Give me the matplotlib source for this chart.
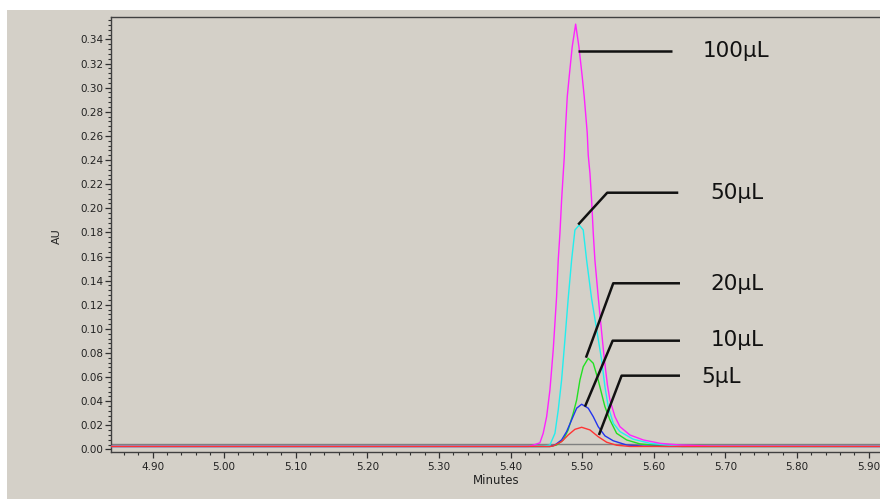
import matplotlib
matplotlib.use("Agg")
import matplotlib.pyplot as plt
from matplotlib.patches import Rectangle
from matplotlib.ticker import MultipleLocator, FormatStrFormatter

# ---------------- data ----------------
x_100 = [4.842, 5.425, 5.4316, 5.4409, 5.4455, 5.4503, 5.4549, 5.4595, 5.4642, 5.4665,
         5.4689, 5.4712, 5.4735, 5.4749, 5.4763, 5.4791, 5.4818, 5.4860, 5.4908, 5.4954,
         5.5000, 5.5028, 5.5070, 5.5084, 5.5108, 5.5131, 5.5154, 5.5177, 5.5223, 5.5268,
         5.5310, 5.5352, 5.5387, 5.5457, 5.5527, 5.5666, 5.5852, 5.6085, 5.6365, 5.6800, 5.916]
y_100 = [0.0025, 0.0025, 0.0036, 0.0055, 0.0134, 0.0272, 0.0493, 0.0825, 0.1267, 0.1571,
         0.1795, 0.2068, 0.2290, 0.2420, 0.2624, 0.2925, 0.3091, 0.3339, 0.3527, 0.3339,
         0.3091, 0.2925, 0.2624, 0.2440, 0.2290, 0.2068, 0.1795, 0.1571, 0.1267, 0.0991,
         0.0742, 0.0535, 0.0410, 0.0272, 0.0189, 0.0120, 0.0079, 0.0051, 0.0037, 0.0028, 0.0025]

x_50 = [4.842, 5.445, 5.4549, 5.4619, 5.4665, 5.4712, 5.4758, 5.4804, 5.4852, 5.4898,
        5.4958, 5.5014, 5.5061, 5.5131, 5.5200, 5.5271, 5.5317, 5.5363, 5.5433, 5.5527,
        5.5712, 5.5946, 5.6267, 5.6600, 5.916]
y_50 = [0.0025, 0.0025, 0.0037, 0.0134, 0.0327, 0.0576, 0.0908, 0.1250, 0.1571, 0.1820,
        0.1861, 0.1820, 0.1571, 0.1250, 0.1000, 0.0742, 0.0521, 0.0355, 0.0217, 0.0148,
        0.0085, 0.0051, 0.0032, 0.0026, 0.0025]

x_20 = [4.842, 5.455, 5.4642, 5.4735, 5.4804, 5.4874, 5.4922, 5.4968, 5.5014, 5.5084,
        5.5154, 5.5223, 5.5293, 5.5317, 5.5387, 5.5480, 5.5620, 5.5806, 5.6085, 5.6400, 5.916]
y_20 = [0.0025, 0.0025, 0.0037, 0.0079, 0.0162, 0.0300, 0.0410, 0.0576, 0.0686, 0.0756,
        0.0715, 0.0576, 0.0410, 0.0355, 0.0245, 0.0134, 0.0079, 0.0046, 0.0030, 0.0025, 0.0025]

x_10 = [4.842, 5.455, 5.4619, 5.4712, 5.4782, 5.4852, 5.4922, 5.4992, 5.5084, 5.5154,
        5.5223, 5.5317, 5.5433, 5.5620, 5.5852, 5.6200, 5.916]
y_10 = [0.0025, 0.0025, 0.0037, 0.0079, 0.0148, 0.0245, 0.0342, 0.0375, 0.0342, 0.0272,
        0.0189, 0.0113, 0.0072, 0.0037, 0.0028, 0.0025, 0.0025]

x_5 = [4.842, 5.455, 5.4595, 5.4712, 5.4804, 5.4898, 5.4992, 5.5108, 5.5223, 5.5341,
       5.5480, 5.5666, 5.916]
y_5 = [0.0025, 0.0025, 0.0029, 0.0065, 0.0120, 0.0167, 0.0184, 0.0162, 0.0106, 0.0060,
       0.0035, 0.0025, 0.0025]

x_blank = [4.842, 5.916]
y_blank = [0.0043, 0.0043]

labels = ["100µL", "50µL", "20µL", "10µL", "5µL"]
# leader lines: tip on peak, elbow, end of horizontal part; text centre
tip_x   = [5.4944, 5.4944, 5.5052, 5.5038, 5.5233]
tip_y   = [0.3304, 0.1865, 0.0761, 0.0355, 0.0120]
elb_x   = [5.4944, 5.5349, 5.5433, 5.5425, 5.5550]
elb_y   = [0.3304, 0.2129, 0.1378, 0.0902, 0.0612]
end_x   = [5.6249, 5.6341, 5.6365, 5.6365, 5.6365]
txt_x   = [5.7150, 5.7163, 5.7163, 5.7163, 5.6944]
txt_y   = [0.3304, 0.2126, 0.1372, 0.0908, 0.0600]

# ---------------- figure ----------------
BG = "#d4d0c8"
fig = plt.figure(figsize=(8.8, 4.99), dpi=100, facecolor="white")
fig.patches.append(Rectangle((7 / 880, 0), 1, (499 - 10) / 499, transform=fig.transFigure,
                             facecolor=BG, edgecolor="none", zorder=-10))

ax = fig.add_axes([111 / 880, (499 - 452) / 499, 1 - 111 / 880, (452 - 17) / 499])
ax.set_facecolor(BG)

ax.plot(x_blank, y_blank, color="#808080", lw=1.0, zorder=2)
series = [(x_20, y_20, "#22e022"), (x_10, y_10, "#2233ee"),
          (x_50, y_50, "#22eeee"), (x_100, y_100, "#ff22ff"), (x_5, y_5, "#ff3333")]
for xs, ys, c in series:
    ax.plot(xs, ys, color=c, lw=1.0, zorder=3)

for i, lab in enumerate(labels):
    ax.plot([tip_x[i], elb_x[i], end_x[i]], [tip_y[i], elb_y[i], elb_y[i]],
            color="#111111", lw=1.8, zorder=5, solid_capstyle="butt")
    ax.text(txt_x[i], txt_y[i], lab, ha="center", va="center", fontsize=15.5,
            color="#111111", family="DejaVu Sans", zorder=6)

ax.set_xlim(4.842, 5.9158)
ax.set_ylim(-0.0021, 0.3586)

ax.xaxis.set_major_locator(MultipleLocator(0.1))
ax.xaxis.set_minor_locator(MultipleLocator(0.02))
ax.yaxis.set_major_locator(MultipleLocator(0.02))
ax.yaxis.set_minor_locator(MultipleLocator(0.004))
ax.xaxis.set_major_formatter(FormatStrFormatter("%.2f"))
ax.yaxis.set_major_formatter(FormatStrFormatter("%.2f"))

ax.spines["right"].set_visible(False)
for s in ["left", "top", "bottom"]:
    ax.spines[s].set_color("#404040")
    ax.spines[s].set_linewidth(1.0)

ax.tick_params(axis="both", which="major", direction="out", length=4.5, width=0.9,
               color="#303030", labelsize=7.5, labelcolor="#222222", pad=1.0)
ax.tick_params(axis="both", which="minor", direction="out", length=2.2, width=0.8,
               color="#303030")
ax.tick_params(axis="x", which="major", pad=2.5)

ax.set_xlabel("Minutes", fontsize=8.5, color="#222222")
ax.set_ylabel("AU", fontsize=8, color="#222222")
ax.xaxis.set_label_coords((496 - 111) / 769, (452 - 474) / 435)
ax.yaxis.set_label_coords((62 - 111) / 769, (452 - 236) / 435)

fig.savefig("out.png", dpi=100, facecolor=fig.get_facecolor())
